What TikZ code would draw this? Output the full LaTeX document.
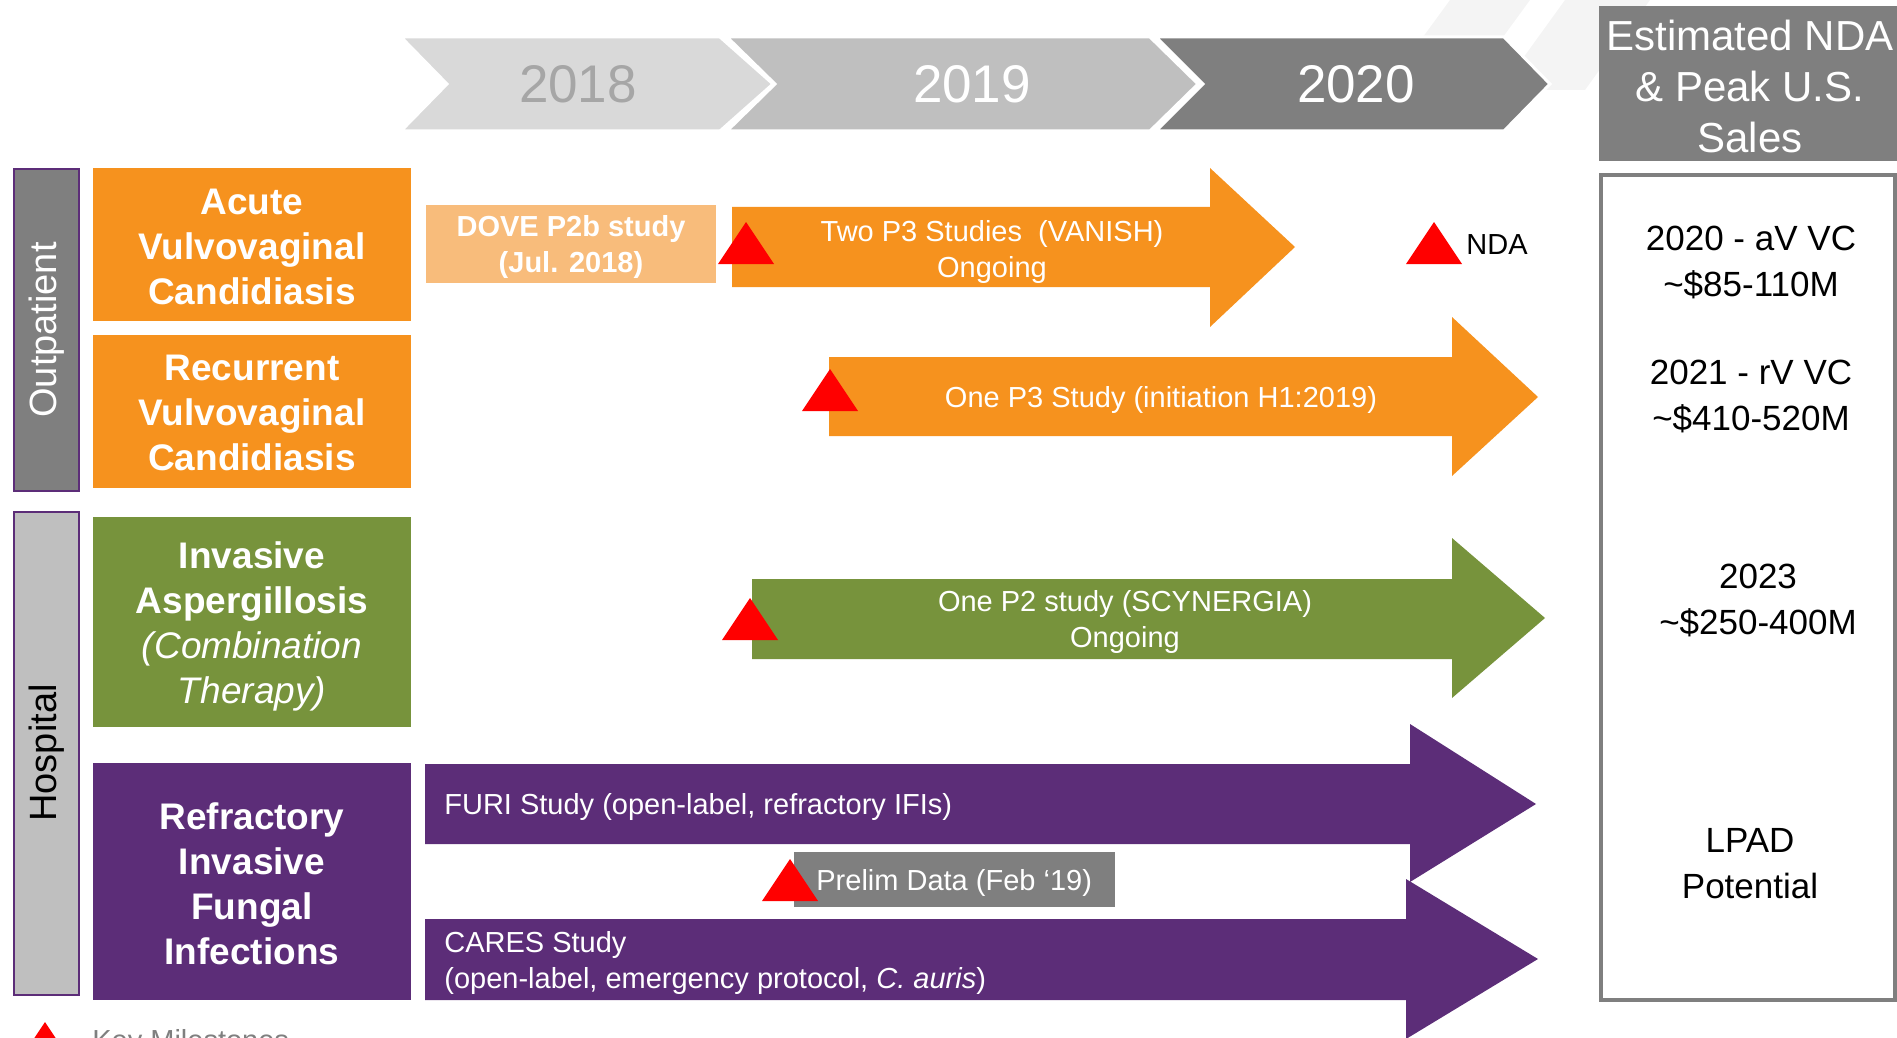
\documentclass[tikz,border=0pt]{standalone}
\usepackage{fontspec}
\setmainfont{Liberation Sans}
\definecolor{gdark}{HTML}{7F7F7F}
\definecolor{gmid}{HTML}{BFBFBF}
\definecolor{glight}{HTML}{D9D9D9}
\definecolor{gtext}{HTML}{A6A6A6}
\definecolor{gstripe}{HTML}{F4F4F4}
\definecolor{orng}{HTML}{F6921E}
\definecolor{orngpale}{HTML}{F8BC7B}
\definecolor{olive}{HTML}{77933C}
\definecolor{purp}{HTML}{5C2D78}
\begin{document}
\begin{tikzpicture}[x=0.5pt,y=-0.5pt,
  chev/.style={line width=1.5pt, draw=white, line join=miter},
  yeartxt/.style={inner sep=0pt, font=\fontsize{26.5}{30}\selectfont},
  cattxt/.style={inner sep=0pt, text=white, align=center, font=\bfseries\fontsize{18.5}{22.5}\selectfont},
  armtxt/.style={inner sep=0pt, text=white, align=center, font=\fontsize{14.5}{18}\selectfont},
  salestxt/.style={inner sep=0pt, align=center, font=\fontsize{17.5}{23}\selectfont},
  bartxt/.style={inner sep=0pt, rotate=90, font=\fontsize{19}{22}\selectfont},
  keytri/.pic={\fill[red] (0,0) -- (28,42) -- (-28,42) -- cycle;}
]
\useasboundingbox (0,0) rectangle (1897,1038);

% faint background stripes behind the header
\fill[gstripe] (1450,0) -- (1530,0) -- (1503,37) -- (1423,37) -- cycle;
\fill[gstripe] (1565,0) -- (1650,0) -- (1585,90) -- (1500,90) -- cycle;

% year chevrons
\filldraw[chev, fill=glight] (401,37) -- (720,37) -- (773,84) -- (720,131) -- (401,131) -- (447,84) -- cycle;
\filldraw[chev, fill=gmid] (727,37) -- (1150,37) -- (1198,84) -- (1150,131) -- (727,131) -- (775,84) -- cycle;
\filldraw[chev, fill=gdark] (1156,37) -- (1504,37) -- (1550,84) -- (1504,131) -- (1156,131) -- (1203,84) -- cycle;
\node[yeartxt, text=gtext] (y18) at (578,84) {2018};
\node[yeartxt, text=white] (y19) at (972,84) {2019};
\node[yeartxt, text=white] (y20) at (1356,84) {2020};

% sales header and panel
\fill[gdark] (1599,6) rectangle (1897,161);
\node[inner sep=0pt, text=white, align=center, font=\fontsize{21}{25.5}\selectfont] (ndahead) at (1750,86)
  {Estimated NDA\\\& Peak U.S.\\Sales};
\draw[gdark, line width=2pt] (1601,175) rectangle (1895,1000);

% setting bars
\filldraw[fill=gdark, draw=purp, line width=1pt] (14,169) rectangle (79,491);
\node[bartxt, text=white] (outp) at (46.5,330) {Outpatient};
\filldraw[fill=gmid, draw=purp, line width=1pt] (14,512) rectangle (79,995);
\node[bartxt, text=black] (hosp) at (46.5,753) {Hospital};

% indication boxes
\fill[orng] (93,168) rectangle (411,321);
\node[cattxt] (avvc) at (252,247) {Acute\\Vulvovaginal\\Candidiasis};
\fill[orng] (93,335) rectangle (411,488);
\node[cattxt] (rvvc) at (252,413) {Recurrent\\Vulvovaginal\\Candidiasis};
\fill[olive] (93,517) rectangle (411,727);
\node[cattxt] (ia) at (252,626) {Invasive\\Aspergillosis\\\mdseries\itshape(Combination\\\mdseries\itshape Therapy)};
\fill[purp] (93,763) rectangle (411,1000);
\node[cattxt] (rifi) at (252,884) {Refractory\\Invasive\\Fungal\\Infections};

% study arrows
\fill[orngpale] (426,205) rectangle (716,283);
\node[armtxt, font=\bfseries\fontsize{14.5}{18}\selectfont] (dove) at (571,247) {DOVE P2b study\\(Jul. 2018)};

\fill[orng] (732,207) -- (1210,207) -- (1210,168) -- (1295,247) -- (1210,327) -- (1210,287) -- (732,287) -- cycle;
\node[armtxt] (vanish) at (992,252) {Two P3 Studies\ \ (VANISH)\\Ongoing};

\fill[orng] (829,357) -- (1452,357) -- (1452,317) -- (1538,397) -- (1452,476) -- (1452,436) -- (829,436) -- cycle;
\node[armtxt] (onep3) at (1161,400) {One P3 Study (initiation H1:2019)};

\fill[olive] (752,579) -- (1452,579) -- (1452,538) -- (1545,618) -- (1452,698) -- (1452,659) -- (752,659) -- cycle;
\node[armtxt] (scy) at (1125,622) {One P2 study (SCYNERGIA)\\Ongoing};

\fill[purp] (425,764) -- (1410,764) -- (1410,724) -- (1536,804) -- (1410,882) -- (1410,844) -- (425,844) -- cycle;
\node[armtxt, anchor=west] (furi) at (444,807) {FURI Study (open-label, refractory IFIs)};

\fill[purp] (425,919) -- (1406,919) -- (1406,879) -- (1538,959) -- (1406,1039) -- (1406,1000) -- (425,1000) -- cycle;
\node[armtxt, anchor=west, align=left] (cares) at (444,963)
  {CARES Study\\(open-label, emergency protocol, \textit{C. auris})};

\fill[gdark] (794,852) rectangle (1115,907);
\node[armtxt, anchor=west] (prelim) at (816,883) {Prelim Data (Feb ‘19)};

% key milestones
\pic at (746,222) {keytri};
\pic at (830,369) {keytri};
\pic at (1434,222) {keytri};
\pic at (750,598) {keytri};
\pic at (790,859) {keytri};
\node[inner sep=0pt, anchor=west, font=\fontsize{14.5}{18}\selectfont] (nda) at (1466,245) {NDA};

% sales estimates
\node[salestxt] (s1) at (1751,262) {2020 - aV VC\\\textasciitilde\$85-110M};
\node[salestxt] (s2) at (1751,396) {2021 - rV VC\\\textasciitilde\$410-520M};
\node[salestxt] (s3) at (1758,600) {2023\\\textasciitilde\$250-400M};
\node[salestxt] (s4) at (1750,864) {LPAD\\Potential};

% legend
\pic at (45,1022) {keytri};
\node[inner sep=0pt, anchor=north west, text=gdark, font=\fontsize{14.5}{18}\selectfont] (legend) at (92,1029) {Key Milestones};
\end{tikzpicture}
\end{document}
